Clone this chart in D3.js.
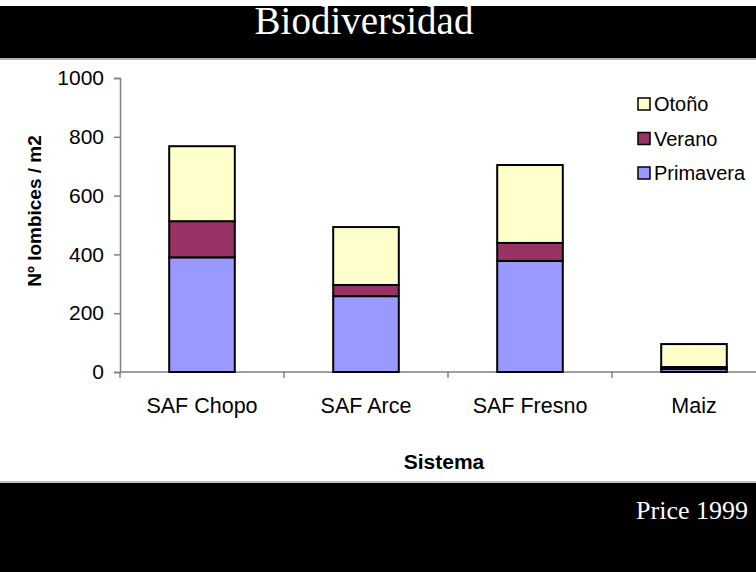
<!DOCTYPE html>
<html>
<head>
<meta charset="utf-8">
<script src="https://cdn.jsdelivr.net/npm/d3@7"></script>
<style>
body { margin: 0; background: #fff; }
svg text { font-family: Arial, "Liberation Sans", sans-serif; }
</style>
</head>
<body>
<svg id="canvas" width="756" height="572"></svg>
<script>
var categories = ['SAF Chopo', 'SAF Arce', 'SAF Fresno', 'Maiz'];
var primavera = [390, 258, 378, 10];
var verano = [123, 38, 61, 7];
var otono = [255, 197, 265, 78];
var seriesNames = ['Primavera', 'Verano', 'Otoño'];
var seriesColors = ['#9999ff', '#993366', '#ffffcc'];
var yTicks = [0, 200, 400, 600, 800, 1000];

var svg = d3.select('#canvas');

// black header and footer bands
svg.append('rect').attr('x', 0).attr('y', 6).attr('width', 756).attr('height', 52).attr('fill', '#000');
svg.append('line').attr('x1', 0).attr('x2', 756).attr('y1', 59).attr('y2', 59).attr('stroke', '#999').attr('stroke-width', 1.5);
svg.append('text').attr('x', 364).attr('y', 34).attr('text-anchor', 'middle')
	.style('font-family', '"Liberation Serif", "Times New Roman", serif')
	.style('font-size', '39px').attr('fill', '#fff').text('Biodiversidad');

svg.append('line').attr('x1', 0).attr('x2', 756).attr('y1', 482).attr('y2', 482).attr('stroke', '#aaa').attr('stroke-width', 1.5);
svg.append('rect').attr('x', 0).attr('y', 483).attr('width', 756).attr('height', 89).attr('fill', '#000');
svg.append('text').attr('x', 748).attr('y', 519).attr('text-anchor', 'end')
	.style('font-family', '"Liberation Serif", "Times New Roman", serif')
	.style('font-size', '26px').attr('fill', '#fff').text('Price 1999');

var rows = categories.map(function(c, i){
	return {cat: c, Primavera: primavera[i], Verano: verano[i], 'Otoño': otono[i]};
});
var stacked = d3.stack().keys(seriesNames)(rows);

var x = d3.scaleBand().domain(categories).range([120, 776]).paddingInner(0.6).paddingOuter(0.3);
var y = d3.scaleLinear().domain([0, 1000]).range([372, 78]);

// y axis
var yAxis = svg.append('g').attr('transform', 'translate(120,0)')
	.call(d3.axisLeft(y).tickValues(yTicks).tickFormat(d3.format('d')).tickSize(6).tickPadding(10));
yAxis.select('.domain').attr('stroke', '#808080').attr('stroke-width', 1.5);
yAxis.selectAll('.tick line').attr('stroke', '#808080').attr('stroke-width', 1.5);
yAxis.selectAll('.tick text').style('font-size', '21px').attr('fill', '#000');

// x axis
svg.append('line').attr('x1', 120).attr('x2', 776).attr('y1', 372).attr('y2', 372)
	.attr('stroke', '#808080').attr('stroke-width', 1.5);
svg.selectAll('.xtick').data(d3.range(categories.length + 1)).enter().append('line')
	.attr('class', 'xtick')
	.attr('x1', function(i){ return 120 + i * x.step(); })
	.attr('x2', function(i){ return 120 + i * x.step(); })
	.attr('y1', 372).attr('y2', 378)
	.attr('stroke', '#808080').attr('stroke-width', 1.5);
svg.selectAll('.xlabel').data(categories).enter().append('text')
	.attr('class', 'xlabel')
	.attr('x', function(d){ return x(d) + x.bandwidth() / 2; })
	.attr('y', 413).attr('text-anchor', 'middle')
	.style('font-size', '21.5px').text(function(d){ return d; });

// bars
svg.append('g').selectAll('g').data(stacked).enter().append('g')
	.attr('fill', function(d, i){ return seriesColors[i]; })
	.selectAll('rect').data(function(d){ return d; }).enter().append('rect')
	.attr('x', function(d){ return x(d.data.cat); })
	.attr('y', function(d){ return y(d[1]); })
	.attr('width', x.bandwidth())
	.attr('height', function(d){ return y(d[0]) - y(d[1]); })
	.attr('stroke', '#000').attr('stroke-width', 2);

// axis titles
svg.append('text').attr('transform', 'translate(41,211) rotate(-90)').attr('text-anchor', 'middle')
	.style('font-size', '19px').style('font-weight', 'bold').text('Nº lombices / m2');
svg.append('text').attr('x', 444).attr('y', 469).attr('text-anchor', 'middle')
	.style('font-size', '21px').style('font-weight', 'bold').text('Sistema');

// legend
var legendItems = ['Otoño', 'Verano', 'Primavera'];
var legend = svg.selectAll('.legend').data(legendItems).enter().append('g')
	.attr('class', 'legend')
	.attr('transform', function(d, i){ return 'translate(638,' + (104 + i * 34.5) + ')'; });
legend.append('rect').attr('x', 0).attr('y', -6).attr('width', 12).attr('height', 12)
	.attr('fill', function(d){ return seriesColors[seriesNames.indexOf(d)]; })
	.attr('stroke', '#000').attr('stroke-width', 1.5);
legend.append('text').attr('x', 16).attr('y', 7).style('font-size', '20px').text(function(d){ return d; });
</script>
</body>
</html>
